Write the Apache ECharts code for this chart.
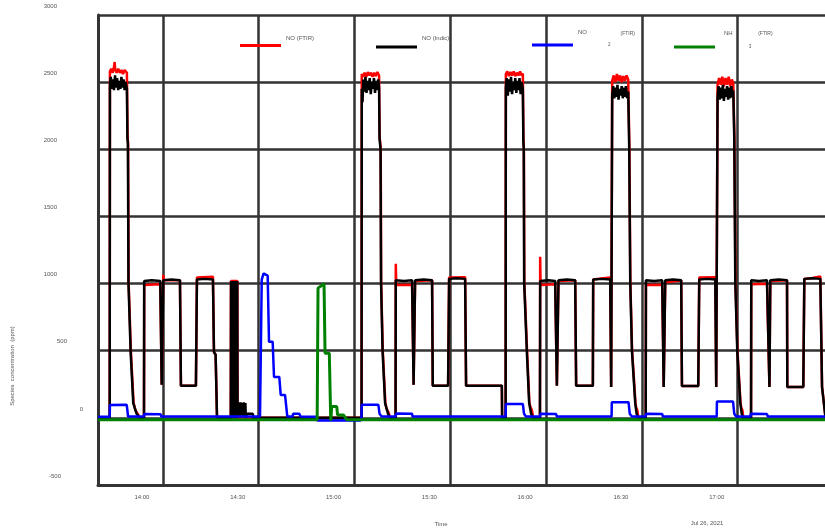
<!DOCTYPE html>
<html>
<head>
<meta charset="utf-8">
<script src="https://cdn.jsdelivr.net/npm/echarts@6/dist/echarts.min.js"></script>
<style>
  html, body { margin: 0; padding: 0; background: #fff; }
  #chart { width: 825px; height: 531px; }
</style>
</head>
<body>
<div id="chart"></div>
<script>
// data: [time, ppm]
const dayPrefix = "2021-07-26T";
const xRange = ["13:39:40", "17:29:50"];
const xTicks = ["14:00", "14:30", "15:00", "15:30", "16:00", "16:30", "17:00"];
const yRange = [-500, 3000];
const yStep = 500;
const seriesNames = ["NO (FTIR)", "NO (Indic)", "NO2 (FTIR)", "NH3 (FTIR)"];

const noFtir = [
  ["13:39:40", 0], ["13:43:20", 0],
  ["13:43:24", 2580], ["13:43:50", 2600], ["13:44:15", 2570], ["13:44:40", 2610], ["13:44:52", 2650], ["13:45:05", 2590],
  ["13:45:30", 2570], ["13:46:00", 2600], ["13:46:30", 2570], ["13:47:00", 2590], ["13:47:30", 2560], ["13:48:00", 2590], ["13:48:43", 2570],
  ["13:48:55", 2090], ["13:49:05", 2050], ["13:49:15", 1015], ["13:49:58", 495], ["13:50:48", 115], ["13:51:20", 60], ["13:51:50", 70], ["13:52:50", 0],
  ["13:54:04", 0], ["13:54:08", 990], ["13:59:10", 995], ["13:59:37", 246], ["14:00:06", 1065], ["14:00:20", 1025], ["14:05:20", 1025],
  ["14:05:38", 240], ["14:10:20", 240], ["14:10:39", 1045], ["14:15:40", 1050], ["14:15:59", 490], ["14:16:30", 470], ["14:16:55", 20], ["14:17:10", 0],
  ["14:21:15", 0], ["14:21:18", 1020], ["14:23:18", 1020], ["14:23:22", 0],
  ["15:02:12", 0],
  ["15:02:16", 2560], ["15:02:40", 2540], ["15:03:10", 2570], ["15:03:40", 2540], ["15:04:10", 2575], ["15:04:40", 2550], ["15:05:10", 2570],
  ["15:05:40", 2540], ["15:06:10", 2570], ["15:06:40", 2545], ["15:07:10", 2575], ["15:07:41", 2550],
  ["15:07:52", 2090], ["15:08:12", 2010], ["15:08:20", 1015], ["15:08:50", 505], ["15:09:38", 115], ["15:10:00", 70], ["15:10:40", 40], ["15:11:10", 0],
  ["15:12:51", 0], ["15:12:55", 1147], ["15:13:05", 990], ["15:18:01", 992], ["15:18:30", 246], ["15:18:58", 1020], ["15:24:17", 1025],
  ["15:24:30", 240], ["15:29:18", 240], ["15:29:37", 1045], ["15:34:38", 1048], ["15:34:56", 240], ["15:46:08", 240], ["15:46:13", 0],
  ["15:47:19", 0],
  ["15:47:23", 2560], ["15:47:50", 2580], ["15:48:20", 2545], ["15:48:50", 2575], ["15:49:20", 2550], ["15:49:50", 2580], ["15:50:20", 2545],
  ["15:50:50", 2570], ["15:51:20", 2550], ["15:51:50", 2580], ["15:52:20", 2550], ["15:52:42", 2565],
  ["15:52:54", 2070], ["15:53:02", 2005], ["15:53:10", 1015], ["15:54:02", 495], ["15:54:45", 115], ["15:55:05", 80], ["15:55:30", 60], ["15:56:00", 0],
  ["15:58:04", 0], ["15:58:08", 1200], ["15:58:16", 990], ["16:02:50", 995], ["16:03:22", 240], ["16:03:52", 1020], ["16:09:06", 1025],
  ["16:09:24", 240], ["16:14:38", 240], ["16:14:44", 1030], ["16:17:20", 1038], ["16:20:04", 1045], ["16:20:22", 230],
  ["16:20:41", 2510], ["16:21:10", 2550], ["16:21:40", 2500], ["16:22:10", 2560], ["16:22:40", 2510], ["16:23:10", 2550], ["16:23:40", 2500],
  ["16:24:10", 2545], ["16:24:40", 2510], ["16:25:10", 2550], ["16:25:42", 2520],
  ["16:26:04", 2015], ["16:26:22", 1015], ["16:26:55", 505], ["16:27:58", 115], ["16:28:10", 80], ["16:28:30", 60], ["16:28:55", 0],
  ["16:31:11", 0], ["16:31:15", 990], ["16:36:21", 992], ["16:36:49", 230], ["16:37:18", 1010], ["16:42:18", 1022], ["16:42:32", 238],
  ["16:47:38", 238], ["16:47:57", 1045], ["16:52:58", 1048], ["16:53:16", 230],
  ["16:53:41", 2480], ["16:54:10", 2530], ["16:54:40", 2480], ["16:55:10", 2540], ["16:55:40", 2470], ["16:56:10", 2530], ["16:56:40", 2480],
  ["16:57:10", 2540], ["16:57:40", 2470], ["16:58:10", 2520], ["16:58:36", 2490],
  ["16:58:58", 2085], ["16:59:17", 1015], ["16:59:54", 505], ["17:00:52", 115], ["17:01:05", 80], ["17:01:25", 60], ["17:01:48", 0],
  ["17:04:10", 0], ["17:04:14", 995], ["17:09:10", 998], ["17:09:56", 230], ["17:10:12", 1020], ["17:15:26", 1025], ["17:15:31", 230],
  ["17:20:32", 230], ["17:20:51", 1035], ["17:23:20", 1042], ["17:25:52", 1052], ["17:26:24", 230], ["17:27:30", 0], ["17:29:50", 0]
];

const noIndic = [
  ["13:39:40", 0], ["13:43:20", 0],
  ["13:43:24", 2470], ["13:43:40", 2540], ["13:44:00", 2450], ["13:44:20", 2520], ["13:44:40", 2440], ["13:45:00", 2550], ["13:45:20", 2460],
  ["13:45:40", 2530], ["13:46:00", 2440], ["13:46:20", 2510], ["13:46:40", 2450], ["13:47:00", 2540], ["13:47:20", 2460], ["13:47:40", 2520],
  ["13:48:00", 2440], ["13:48:20", 2500], ["13:48:43", 2450],
  ["13:48:53", 2080], ["13:49:02", 2040], ["13:49:12", 1010], ["13:49:53", 490], ["13:50:42", 110], ["13:51:46", 30], ["13:52:48", 0],
  ["13:54:04", 0], ["13:54:08", 1020], ["13:56:30", 1025], ["13:59:10", 1020], ["13:59:37", 246], ["14:00:06", 1025], ["14:02:40", 1030],
  ["14:05:20", 1025], ["14:05:38", 240], ["14:10:20", 240], ["14:10:39", 1030], ["14:13:00", 1035], ["14:15:40", 1030],
  ["14:15:59", 490], ["14:16:30", 470], ["14:16:55", 20], ["14:17:10", 0],
  ["14:21:15", 0], ["14:21:20", 1020], ["14:21:30", 10], ["14:21:40", 1020], ["14:21:50", 0], ["14:22:00", 1015], ["14:22:10", 0],
  ["14:22:20", 1020], ["14:22:30", 0], ["14:22:40", 1015], ["14:22:50", 0], ["14:23:00", 1020], ["14:23:10", 0], ["14:23:17", 1020], ["14:23:22", 0],
  ["14:23:36", 0], ["14:23:50", 115], ["14:24:05", 10], ["14:24:20", 115], ["14:24:35", 20], ["14:24:50", 110], ["14:25:05", 15],
  ["14:25:20", 115], ["14:25:35", 20], ["14:25:50", 110], ["14:25:56", 0],
  ["14:26:14", 0], ["14:26:20", 30], ["14:28:10", 30], ["14:28:18", 0],
  ["15:02:12", 0],
  ["15:02:16", 2450], ["15:02:30", 2350], ["15:02:45", 2520], ["15:03:05", 2430], ["15:03:25", 2540], ["15:03:45", 2420], ["15:04:05", 2510],
  ["15:04:25", 2440], ["15:04:45", 2530], ["15:05:05", 2410], ["15:05:25", 2500], ["15:05:45", 2450], ["15:06:05", 2530], ["15:06:25", 2420],
  ["15:06:45", 2510], ["15:07:05", 2440], ["15:07:25", 2520], ["15:07:41", 2460],
  ["15:07:50", 2080], ["15:08:09", 2000], ["15:08:18", 1010], ["15:08:47", 500], ["15:09:34", 110], ["15:10:30", 30], ["15:11:08", 0],
  ["15:12:51", 0], ["15:12:55", 1025], ["15:15:30", 1020], ["15:18:01", 1025], ["15:18:30", 246], ["15:18:58", 1025], ["15:21:40", 1030],
  ["15:24:17", 1025], ["15:24:30", 240], ["15:29:18", 240], ["15:29:37", 1035], ["15:32:00", 1040], ["15:34:38", 1035], ["15:34:56", 240],
  ["15:46:08", 240], ["15:46:13", 0],
  ["15:47:19", 0],
  ["15:47:23", 2460], ["15:47:40", 2530], ["15:48:00", 2400], ["15:48:20", 2520], ["15:48:40", 2430], ["15:49:00", 2540], ["15:49:20", 2410],
  ["15:49:40", 2500], ["15:50:00", 2440], ["15:50:20", 2530], ["15:50:40", 2420], ["15:51:00", 2510], ["15:51:20", 2440], ["15:51:40", 2530],
  ["15:52:00", 2410], ["15:52:20", 2500], ["15:52:42", 2450],
  ["15:52:52", 2060], ["15:53:00", 2000], ["15:53:07", 1010], ["15:53:58", 490], ["15:54:41", 110], ["15:55:18", 30], ["15:55:56", 0],
  ["15:58:04", 0], ["15:58:08", 1020], ["16:00:40", 1025], ["16:02:50", 1020], ["16:03:22", 240], ["16:03:52", 1025], ["16:06:30", 1030],
  ["16:09:06", 1025], ["16:09:24", 240], ["16:14:38", 240], ["16:14:44", 1030], ["16:17:20", 1035], ["16:20:04", 1030], ["16:20:22", 230],
  ["16:20:41", 2400], ["16:21:00", 2470], ["16:21:20", 2380], ["16:21:40", 2460], ["16:22:00", 2390], ["16:22:20", 2480], ["16:22:40", 2370],
  ["16:23:00", 2450], ["16:23:20", 2400], ["16:23:40", 2470], ["16:24:00", 2380], ["16:24:20", 2460], ["16:24:40", 2390], ["16:25:00", 2470],
  ["16:25:20", 2380], ["16:25:42", 2430],
  ["16:26:01", 2010], ["16:26:20", 1013], ["16:26:52", 500], ["16:27:54", 110], ["16:28:20", 30], ["16:28:50", 0],
  ["16:31:11", 0], ["16:31:15", 1025], ["16:33:50", 1020], ["16:36:21", 1025], ["16:36:49", 230], ["16:37:18", 1025], ["16:39:50", 1030],
  ["16:42:18", 1025], ["16:42:32", 238], ["16:47:38", 238], ["16:47:57", 1030], ["16:50:30", 1035], ["16:52:58", 1030], ["16:53:16", 230],
  ["16:53:41", 2390], ["16:54:00", 2470], ["16:54:20", 2370], ["16:54:40", 2460], ["16:55:00", 2380], ["16:55:20", 2480], ["16:55:40", 2360],
  ["16:56:00", 2450], ["16:56:20", 2390], ["16:56:40", 2470], ["16:57:00", 2370], ["16:57:20", 2460], ["16:57:40", 2380], ["16:58:00", 2470],
  ["16:58:20", 2390], ["16:58:36", 2440],
  ["16:58:55", 2080], ["16:59:14", 1013], ["16:59:51", 500], ["17:00:48", 110], ["17:01:15", 30], ["17:01:44", 0],
  ["17:04:10", 0], ["17:04:14", 1025], ["17:06:40", 1020], ["17:09:10", 1025], ["17:09:56", 230], ["17:10:12", 1025], ["17:12:50", 1030],
  ["17:15:26", 1025], ["17:15:31", 230], ["17:20:32", 230], ["17:20:51", 1035], ["17:23:20", 1040], ["17:25:52", 1035], ["17:26:24", 230],
  ["17:27:30", 0], ["17:29:50", 0]
];

const no2Ftir = [
  ["13:39:40", 8], ["13:43:20", 8], ["13:43:24", 95], ["13:48:40", 97], ["13:49:05", 10], ["13:54:04", 10], ["13:54:08", 28],
  ["13:59:17", 26], ["13:59:30", 10],
  ["14:30:24", 10], ["14:30:56", 1028], ["14:31:29", 1075], ["14:31:58", 1087], ["14:32:48", 1060], ["14:33:13", 566], ["14:34:22", 566],
  ["14:34:47", 305], ["14:36:26", 305], ["14:36:53", 171], ["14:38:14", 171], ["14:38:57", 10], ["14:40:38", 10], ["14:40:45", 30],
  ["14:42:42", 30], ["14:43:05", 10],
  ["14:48:00", 8], ["14:48:20", -20], ["15:01:50", -20], ["15:02:10", 8],
  ["15:02:16", 97], ["15:07:28", 97], ["15:07:50", 30], ["15:08:30", 10], ["15:12:55", 10], ["15:13:00", 32], ["15:18:01", 30], ["15:18:10", 10],
  ["15:47:20", 10], ["15:47:23", 104], ["15:52:42", 104], ["15:53:05", 30], ["15:53:40", 10], ["15:58:08", 10], ["15:58:12", 30],
  ["16:03:08", 28], ["16:03:20", 10],
  ["16:20:30", 10], ["16:20:34", 117], ["16:25:48", 117], ["16:26:12", 30], ["16:26:50", 10], ["16:31:12", 10], ["16:31:16", 30],
  ["16:36:21", 28], ["16:36:35", 10],
  ["16:53:25", 10], ["16:53:29", 121], ["16:58:32", 121], ["16:58:55", 30], ["16:59:30", 10], ["17:04:00", 10], ["17:04:05", 30],
  ["17:09:10", 28], ["17:09:25", 10], ["17:29:50", 10]
];

const nh3Ftir = [
  ["13:39:40", -14], ["14:48:18", -14], ["14:48:34", 966], ["14:50:27", 998], ["14:50:46", 482], ["14:52:06", 482], ["14:52:33", -20],
  ["14:52:52", 84], ["14:54:26", 84], ["14:54:41", 22], ["14:56:30", 22], ["14:57:34", -14], ["17:29:50", -14]
];

const toTime = (t) => new Date(dayPrefix + (t.length === 5 ? t + ":00" : t)).getTime();
const toPoints = (arr) => arr.map((p) => [toTime(p[0]), p[1]]);
const xTickValues = xTicks.map(toTime);

const pad2 = (n) => (n < 10 ? "0" + n : "" + n);
// right padding of each y tick label (the labels in the picture are not aligned)
const yLabelPad = { 3000: 41, 2500: 41, 2000: 41, 1500: 41, 1000: 41, 500: 31, 0: 15, "-500": 37 };

const labelFont = { fontFamily: "Liberation Sans", fontSize: 6, color: "#555" };

let myChart;
const initChart = () => {
  const chartDom = document.getElementById("chart");
  myChart = echarts.init(chartDom, null, { renderer: "canvas" });
};

const lineSeries = (name, data, color, width) => ({
  name: name,
  type: "line",
  data: toPoints(data),
  showSymbol: false,
  symbol: "none",
  color: color,
  lineStyle: { color: color, width: width },
  animation: false,
});

const legendItem = (name, left, top, text, rich) => ({
  data: [name],
  left: left,
  top: top,
  padding: 0,
  icon: "rect",
  itemWidth: 41,
  itemHeight: 3,
  selectedMode: false,
  formatter: () => text,
  textStyle: { rich: rich },
});

const setOption = () => {
  const option = {
    backgroundColor: "#fff",
    animation: false,
    grid: {
      left: 98,
      right: -8,
      top: 15,
      bottom: 46,
      containLabel: false,
      outerBoundsMode: "none",
      show: false,
    },
    legend: [
      legendItem(seriesNames[0], 240, 35, "{a|NO (FTIR)}", {
        a: { ...labelFont, padding: [0, 0, 15, 0] },
      }),
      legendItem(seriesNames[1], 376, 35, "{a|NO (Indic)}", {
        a: { ...labelFont, padding: [0, 0, 18, 0] },
      }),
      legendItem(seriesNames[2], 532, 29, "{a|NO}{s|2}{b|(FTIR)}", {
        a: { ...labelFont, padding: [0, 21, 26, 0] },
        s: { ...labelFont, fontSize: 4.5, padding: [0, 10, 0, 0] },
        b: { ...labelFont, fontSize: 5, padding: [0, 0, 22, 0] },
      }),
      legendItem(seriesNames[3], 674, 30, "{a|NH}{s|3}{b|(FTIR)}", {
        a: { ...labelFont, padding: [0, 16, 28, 4] },
        s: { ...labelFont, fontSize: 4.5, padding: [0, 7, 0, 0] },
        b: { ...labelFont, fontSize: 5, padding: [0, 0, 26, 0] },
      }),
    ],
    xAxis: {
      type: "value",
      min: toTime(xRange[0]),
      max: toTime(xRange[1]),
      name: "Time",
      nameLocation: "middle",
      nameGap: 36,
      nameTextStyle: { ...labelFont, padding: [0, 49, 0, 0] },
      axisLine: { show: true, onZero: false, lineStyle: { color: "#333", width: 3 } },
      axisTick: { show: false, customValues: xTickValues },
      splitLine: { show: true, lineStyle: { color: "#333", width: 2.5 } },
      axisLabel: {
        ...labelFont,
        margin: 9,
        customValues: xTickValues,
        padding: [0, 42, 0, 0],
        formatter: (val) => {
          const d = new Date(val);
          return pad2(d.getHours()) + ":" + pad2(d.getMinutes());
        },
      },
    },
    yAxis: {
      type: "value",
      min: yRange[0],
      max: yRange[1],
      interval: yStep,
      axisLine: { show: true, lineStyle: { color: "#333", width: 3 } },
      axisTick: { show: false },
      splitLine: { show: true, lineStyle: { color: "#333", width: 2.5 } },
      axisLabel: {
        ...labelFont,
        margin: 0,
        formatter: (v) => "{p" + yLabelPad[v] + "|" + v + "}",
        rich: {
          p41: { ...labelFont, padding: [0, 41, 18, 0] },
          p31: { ...labelFont, padding: [0, 31, 18, 0] },
          p15: { ...labelFont, padding: [0, 15, 18, 0] },
          p37: { ...labelFont, padding: [0, 37, 18, 0] },
        },
      },
    },
    graphic: [
      {
        type: "text",
        x: 12.5,
        y: 366,
        rotation: Math.PI / 2,
        style: {
          text: "Species  concentration  (ppm)",
          ...labelFont,
          fill: "#555",
          align: "center",
          verticalAlign: "middle",
        },
      },
      {
        type: "text",
        x: 707,
        y: 523,
        style: {
          text: "Jul 26, 2021",
          ...labelFont,
          fill: "#555",
          align: "center",
          verticalAlign: "middle",
        },
      },
    ],
    series: [
      lineSeries(seriesNames[0], noFtir, "#ff0000", 2.5),
      lineSeries(seriesNames[1], noIndic, "#000000", 2.5),
      lineSeries(seriesNames[2], no2Ftir, "#0000ff", 2.5),
      lineSeries(seriesNames[3], nh3Ftir, "#008000", 3),
    ],
  };

  option && myChart.setOption(option);
};

initChart();
setOption();
</script>
</body>
</html>
